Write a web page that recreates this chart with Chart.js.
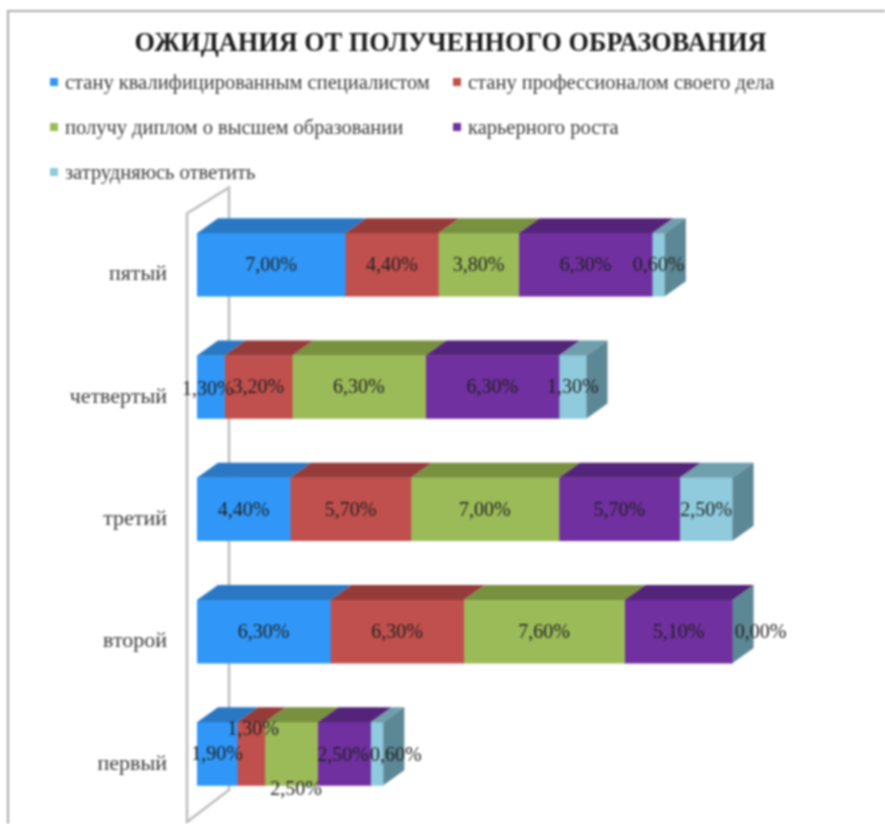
<!DOCTYPE html>
<html>
<head>
<meta charset="utf-8">
<script src="https://cdn.jsdelivr.net/npm/chart.js@4"></script>
<style>
html, body { margin: 0; padding: 0; background: #fff; }
#page { position: relative; width: 885px; height: 824px; overflow: hidden; font-family: "Liberation Serif", serif; filter: blur(0.9px); }
#frame { position: absolute; left: 7px; top: 10px; right: -4px; bottom: -4px; border: 2px solid #ababab; }
#des { position: absolute; left: 0; top: 0; }
.leg { position: absolute; font-size: 20.5px; color: #3a3a3a; white-space: nowrap; line-height: 18px; }
.leg i { position: absolute; left: -15px; top: 5px; width: 8px; height: 8px; }
</style>
</head>
<body>
<div id="page">
  <div id="frame"></div>
  <canvas id="des" width="885" height="824"></canvas>
  <div id="legend"></div>
</div>
<script>
var titleText = 'ОЖИДАНИЯ ОТ ПОЛУЧЕННОГО ОБРАЗОВАНИЯ';
var categories = ['пятый', 'четвертый', 'третий', 'второй', 'первый'];

var seriesNames = [
  'стану квалифицированным специалистом',
  'стану профессионалом своего дела',
  'получу диплом о высшем образовании',
  'карьерного роста',
  'затрудняюсь ответить'
];
var specialist = [7.0, 1.3, 4.4, 6.3, 1.9];
var professional = [4.4, 3.2, 5.7, 6.3, 1.3];
var diploma = [3.8, 6.3, 7.0, 7.6, 2.5];
var career = [6.3, 6.3, 5.7, 5.1, 2.5];
var unsure = [0.6, 1.3, 2.5, 0.0, 0.6];
var seriesValues = [specialist, professional, diploma, career, unsure];

var frontColors = ['#3097f8', '#c0504d', '#9bbb59', '#7030a0', '#8fcbdd'];
var topColors = ['#2a78c4', '#953c3a', '#78913f', '#54247a', '#6f9eac'];
var sideColor = '#5c8794';

// legend spots, html because the columns have to line up
var legendSpots = [[65, 73], [468, 73], [65, 118], [468, 118], [65, 163]];
var legendBox = document.querySelector('#legend');
seriesNames.forEach(function (name, i) {
  var d = document.createElement('div');
  d.className = 'leg';
  d.style.left = legendSpots[i][0] + 'px';
  d.style.top = legendSpots[i][1] + 'px';
  d.innerHTML = '<i style="background:' + frontColors[i] + '"></i>' + name;
  legendBox.appendChild(d);
});

var depthX = 21;
var depthY = 15;

function poly(c, pts, fill) {
  c.beginPath();
  c.moveTo(pts[0][0], pts[0][1]);
  for (var i = 1; i < pts.length; i++) c.lineTo(pts[i][0], pts[i][1]);
  c.closePath();
  c.fillStyle = fill;
  c.fill();
}

// grey side wall behind the bars
var wall = {
  id: 'wall',
  beforeDatasetsDraw: function (chart) {
    var c = chart.ctx, a = chart.chartArea;
    var x0 = a.left - 10, x1 = a.left + 32;
    c.save();
    c.strokeStyle = '#bdbdbd';
    c.lineWidth = 2.5;
    c.beginPath();
    c.moveTo(x1, a.top - 16);
    c.lineTo(x0, a.top + 10);
    c.lineTo(x0, a.bottom + 7);
    c.lineTo(x1, a.bottom - 25);
    c.closePath();
    c.stroke();
    c.restore();
  }
};

// top and end faces for the fake 3d look
var faces = {
  id: 'faces',
  afterDatasetsDraw: function (chart) {
    var c = chart.ctx;
    seriesValues.forEach(function (vals, i) {
      chart.getDatasetMeta(i).data.forEach(function (bar, j) {
        var top = bar.y - bar.height / 2;
        var bottom = bar.y + bar.height / 2;
        if (vals[j] > 0) {
          poly(c, [[bar.base, top], [bar.x, top], [bar.x + depthX, top - depthY], [bar.base + depthX, top - depthY]], topColors[i]);
        }
        if (i == seriesValues.length - 1) {
          poly(c, [[bar.x, top], [bar.x + depthX, top - depthY], [bar.x + depthX, bottom - depthY], [bar.x, bottom]], sideColor);
        }
      });
    });
  }
};

// the few labels excel moved away from the middle of their segment
var nudges = { '3-4': [28, 0], '4-1': [2, -25], '4-2': [5, 35], '4-3': [-1, 1], '4-4': [19, 1], '1-0': [-3, 2] };

var valueLabels = {
  id: 'valueLabels',
  afterDraw: function (chart) {
    var c = chart.ctx;
    c.save();
    c.font = '20px "Liberation Serif", serif';
    c.fillStyle = '#1f1f1f';
    c.textAlign = 'center';
    c.textBaseline = 'middle';
    seriesValues.forEach(function (vals, i) {
      chart.getDatasetMeta(i).data.forEach(function (bar, j) {
        var n = nudges[j + '-' + i] || [0, 0];
        var txt = vals[j].toFixed(2).replace('.', ',') + '%';
        c.fillText(txt, (bar.base + bar.x) / 2 + n[0], bar.y + 1 + n[1]);
      });
    });
    c.restore();
  }
};

var ctx = document.querySelector('#des');
var chart = new Chart(ctx, {
  type: 'bar',
  data: {
    labels: categories,
    datasets: seriesValues.map(function (vals, i) {
      return { label: seriesNames[i], data: vals, backgroundColor: frontColors[i], borderWidth: 0, barThickness: 63 };
    })
  },
  options: {
    indexAxis: 'y',
    responsive: false,
    animation: false,
    layout: { padding: { left: 16, right: 0, top: 0, bottom: 9 } },
    plugins: {
      legend: { display: false },
      tooltip: { enabled: false },
      title: {
        display: true,
        text: titleText,
        color: '#1c1c1c',
        font: { family: '"Liberation Serif", serif', size: 26.3, weight: 'bold', lineHeight: 1.2 },
        padding: { top: 28, bottom: 144 }
      }
    },
    scales: {
      x: { stacked: true, display: false, min: 0, max: 32.5 },
      y: {
        stacked: true,
        // tick length instead of ticks.padding, the padding eats into the plot height
        grid: { display: false, drawTicks: true, tickLength: 30 },
        border: { display: false },
        afterFit: function (scale) { scale.width = 181; },
        ticks: {
          color: '#3a3a3a',
          padding: 0,
          labelOffset: 10,
          font: { family: '"Liberation Serif", serif', size: 22, lineHeight: 0.8 }
        }
      }
    }
  },
  plugins: [wall, faces, valueLabels]
});
</script>
</body>
</html>
